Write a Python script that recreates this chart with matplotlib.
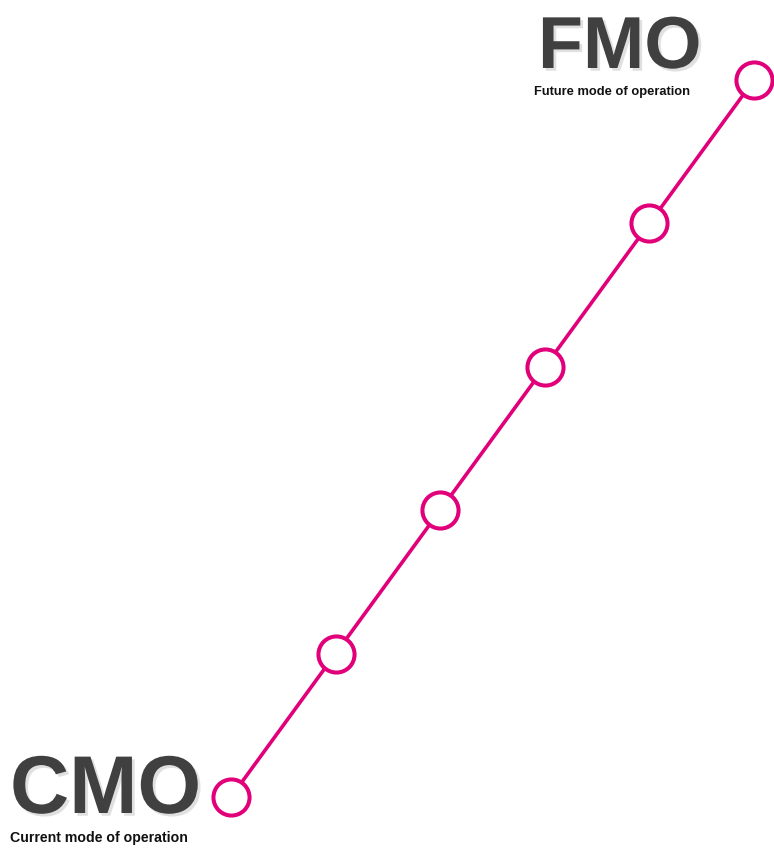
import matplotlib
matplotlib.use("Agg")
import matplotlib.pyplot as plt
import matplotlib.patheffects as pe
from matplotlib.font_manager import fontManager

steps = [0, 1, 2, 3, 4, 5]
progress = [0, 1, 2, 3, 4, 5]
start_label = "CMO"
start_sub = "Current mode of operation"
end_label = "FMO"
end_sub = "Future mode of operation"

names = {f.name for f in fontManager.ttflist}
fam = ["Liberation Sans Narrow", "Liberation Sans", "DejaVu Sans"]
fam = [f for f in fam if f in names] or ["DejaVu Sans"]

W, H = 774, 849
fig = plt.figure(figsize=(W / 100, H / 100), dpi=100)
ax = fig.add_axes([0, 0, 1, 1])
ax.set_xlim(-2.208, 5.191)
ax.set_ylim(-0.3626, 5.558)
ax.axis("off")

magenta = "#E2007A"
ax.plot(steps, progress, color=magenta, lw=2.6, marker="o", ms=26,
        mew=2.9, mfc="white", mec=magenta, zorder=3)

def px(x, y):
    return x / W, 1 - y / H

shadow = [pe.SimplePatchShadow(offset=(2, -2), shadow_rgbFace="#999999", alpha=0.3), pe.Normal()]

fig.text(*px(538, 68), end_label, family=fam, weight="bold", fontsize=53,
         color="#404040", ha="left", va="baseline", path_effects=shadow)
fig.text(*px(534, 95), end_sub, family=fam, weight="bold", fontsize=9.3,
         color="#111111", ha="left", va="baseline")
fig.text(*px(10, 813), start_label, family=fam, weight="bold", fontsize=59,
         color="#404040", ha="left", va="baseline", path_effects=shadow)
fig.text(*px(10, 842), start_sub, family=fam, weight="bold", fontsize=10.2,
         color="#111111", ha="left", va="baseline")

fig.savefig("out.png", dpi=100, facecolor="white")
